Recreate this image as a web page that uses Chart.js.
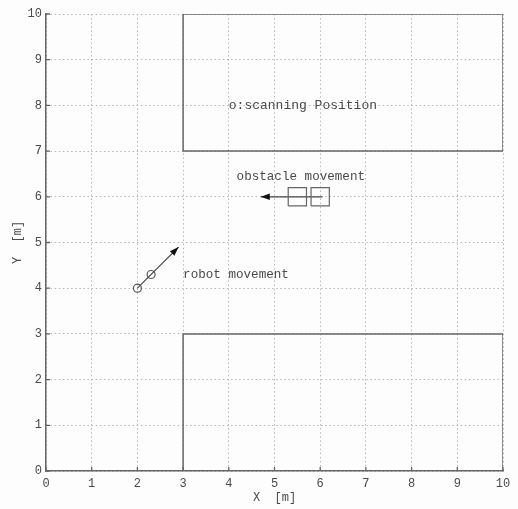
<!DOCTYPE html>
<html>
<head>
<meta charset="utf-8">
<script src="https://cdn.jsdelivr.net/npm/chart.js@4/dist/chart.umd.min.js"></script>
<style>
  body { margin: 0; background: #fdfdfd; }
  canvas { display: block; }
</style>
</head>
<body>
<canvas id="mapChart" width="518" height="509"></canvas>
<script>
// axis ticks
const xTicks = [0, 1, 2, 3, 4, 5, 6, 7, 8, 9, 10];
const yTicks = [0, 1, 2, 3, 4, 5, 6, 7, 8, 9, 10];

// walls (rectangles)
const upperWallX = [3, 3, 10, 10, 3];
const upperWallY = [10, 7, 7, 10, 10];
const lowerWallX = [3, 3, 10, 10];
const lowerWallY = [0, 3, 3, 0];

// moving obstacle (two boxes) and its arrow
const obstacleAX = [5.3, 5.7, 5.7, 5.3, 5.3];
const obstacleAY = [5.8, 5.8, 6.2, 6.2, 5.8];
const obstacleBX = [5.8, 6.2, 6.2, 5.8, 5.8];
const obstacleBY = [5.8, 5.8, 6.2, 6.2, 5.8];
const obstacleArrowX = [6.05, 4.7];
const obstacleArrowY = [6, 6];

// robot scanning positions and its arrow
const scanX = [2, 2.3];
const scanY = [4, 4.3];
const robotArrowX = [2, 2.9];
const robotArrowY = [4, 4.9];

// text notes
const noteText = ["o:scanning Position", "obstacle movement", "robot movement"];
const noteX = [4.0, 4.17, 3.0];
const noteY = [8.0, 6.43, 4.3];

const lineColor = "#666";
const textColor = "#4a4a4a";
const monoFont = "'Liberation Mono', 'DejaVu Sans Mono', monospace";

function pts(xs, ys) {
  return xs.map((x, i) => ({ x: x, y: ys[i] }));
}

function lineSet(xs, ys, extra) {
  return Object.assign({
    data: pts(xs, ys),
    showLine: true,
    borderColor: lineColor,
    borderWidth: 1.5,
    pointRadius: 0,
    fill: false
  }, extra || {});
}

// arrow heads, notes and inward tick marks
const extrasPlugin = {
  id: "extras",
  afterDatasetsDraw(chart) {
    const ctx = chart.ctx;
    const xs = chart.scales.x;
    const ys = chart.scales.y;
    ctx.save();

    chart.data.datasets.forEach(ds => {
      if (!ds.arrow) return;
      const n = ds.data.length;
      const p0 = ds.data[n - 2], p1 = ds.data[n - 1];
      const x0 = xs.getPixelForValue(p0.x), y0 = ys.getPixelForValue(p0.y);
      const x1 = xs.getPixelForValue(p1.x), y1 = ys.getPixelForValue(p1.y);
      const a = Math.atan2(y1 - y0, x1 - x0);
      const len = 9, w = 3.2;
      ctx.fillStyle = "#111";
      ctx.beginPath();
      ctx.moveTo(x1, y1);
      ctx.lineTo(x1 - len * Math.cos(a) + w * Math.sin(a), y1 - len * Math.sin(a) - w * Math.cos(a));
      ctx.lineTo(x1 - len * Math.cos(a) - w * Math.sin(a), y1 - len * Math.sin(a) + w * Math.cos(a));
      ctx.closePath();
      ctx.fill();
    });

    ctx.fillStyle = textColor;
    ctx.textBaseline = "middle";
    ctx.textAlign = "left";
    noteText.forEach((t, i) => {
      ctx.font = (i === 0 ? "13px " : "12.6px ") + monoFont;
      ctx.fillText(t, xs.getPixelForValue(noteX[i]), ys.getPixelForValue(noteY[i]));
    });

    // matlab-style inward ticks
    ctx.strokeStyle = lineColor;
    ctx.lineWidth = 1.3;
    ctx.beginPath();
    xTicks.forEach(v => {
      const px = xs.getPixelForValue(v);
      ctx.moveTo(px, ys.bottom);
      ctx.lineTo(px, ys.bottom - 4);
    });
    yTicks.forEach(v => {
      const py = ys.getPixelForValue(v);
      ctx.moveTo(xs.left, py);
      ctx.lineTo(xs.left + 4, py);
    });
    ctx.stroke();
    ctx.restore();
  }
};

const gridOpts = {
  color: "#b8b8b8",
  lineWidth: 1,
  drawTicks: false
};

new Chart(document.getElementById("mapChart"), {
  type: "scatter",
  data: {
    datasets: [
      lineSet(upperWallX, upperWallY),
      lineSet(lowerWallX, lowerWallY),
      lineSet(obstacleAX, obstacleAY, { borderWidth: 1.2 }),
      lineSet(obstacleBX, obstacleBY, { borderWidth: 1.2 }),
      lineSet(obstacleArrowX, obstacleArrowY, { borderColor: "#444", borderWidth: 1.3, arrow: true }),
      lineSet(robotArrowX, robotArrowY, { borderColor: "#444", borderWidth: 1.2, arrow: true }),
      {
        data: pts(scanX, scanY),
        showLine: false,
        pointStyle: "circle",
        pointRadius: 4,
        pointBorderWidth: 1.2,
        pointBorderColor: "#555",
        pointBackgroundColor: "rgba(0,0,0,0)"
      }
    ]
  },
  options: {
    responsive: false,
    animation: false,
    layout: { padding: { left: 0, right: 15, top: 14, bottom: 0 } },
    plugins: {
      legend: { display: false },
      tooltip: { enabled: false }
    },
    scales: {
      x: {
        type: "linear",
        min: 0,
        max: 10,
        afterBuildTicks: s => { s.ticks = xTicks.map(v => ({ value: v })); },
        afterFit: s => { s.height = 38; s.paddingLeft = 0; s.paddingRight = 0; },
        grid: gridOpts,
        border: { display: true, color: lineColor, width: 1.5, dash: [1.5, 2.6] },
        ticks: {
          color: textColor,
          padding: 6,
          maxRotation: 0,
          font: { family: monoFont, size: 12 }
        },
        title: {
          display: true,
          text: "X  [m]",
          color: textColor,
          padding: { top: 0, bottom: 4 },
          font: { family: monoFont, size: 12 }
        }
      },
      y: {
        type: "linear",
        min: 0,
        max: 10,
        afterBuildTicks: s => { s.ticks = yTicks.map(v => ({ value: v })); },
        afterFit: s => { s.width = 46; s.paddingTop = 0; s.paddingBottom = 0; },
        grid: gridOpts,
        border: { display: true, color: lineColor, width: 1.5, dash: [1.5, 2.6] },
        ticks: {
          color: textColor,
          padding: 4,
          font: { family: monoFont, size: 12 }
        },
        title: {
          display: true,
          text: "Y  [m]",
          color: textColor,
          padding: { top: 11, bottom: 0 },
          font: { family: monoFont, size: 12 }
        }
      }
    }
  },
  plugins: [extrasPlugin]
});
</script>
</body>
</html>
